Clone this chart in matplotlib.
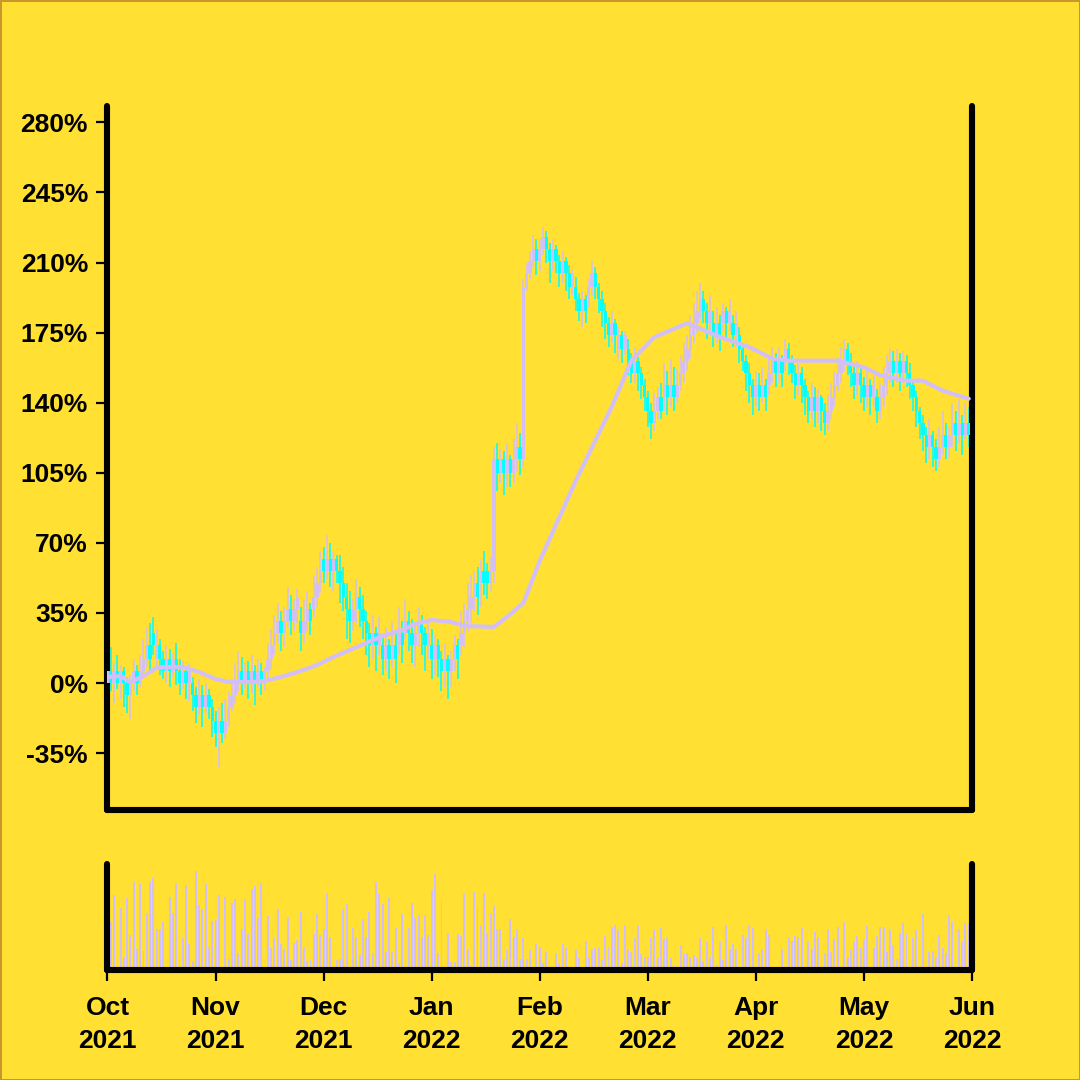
import numpy as np
import pandas as pd
import matplotlib
matplotlib.use('Agg')
import matplotlib.pyplot as plt
import matplotlib.dates as mdates

BG = '#FFE033'
UP = '#D3BFF8'
DOWN = '#00FFFF'

# one candle per day, 264 days
dates = pd.date_range('2021-10-01', periods=264, freq='D')

opens = [
    0, 6, 0, 6, 0, 6, 0, -6, 0, 6,
    0, 6, 12, 19, 25, 12, 19, 12, 6, 12,
    6, 12, 6, 0, 6, 0, 0, -6, -12, -6,
    -12, -6, -12, -19, -25, -19, -25, -19, -12, -6,
    0, 6, 0, 6, 0, 6, 0, 6, 0, 6,
    12, 19, 25, 31, 25, 31, 37, 31, 37, 31,
    25, 31, 37, 37, 43, 50, 62, 56, 62, 56,
    62, 56, 50, 43, 37, 31, 37, 43, 37, 31,
    25, 19, 25, 19, 19, 12, 19, 12, 19, 19,
    25, 25, 31, 25, 19, 25, 31, 25, 19, 19,
    12, 19, 12, 6, 12, 6, 12, 19, 19, 25,
    31, 37, 43, 50, 50, 56, 56, 50, 56, 112,
    105, 112, 105, 112, 105, 112, 118, 112, 198, 205,
    211, 217, 211, 217, 223, 217, 211, 217, 211, 205,
    211, 205, 198, 198, 192, 186, 192, 192, 198, 205,
    198, 192, 186, 180, 174, 180, 167, 174, 167, 167,
    161, 155, 161, 155, 149, 143, 136, 130, 136, 143,
    143, 149, 143, 149, 143, 149, 155, 161, 167, 174,
    180, 186, 192, 186, 180, 180, 174, 180, 180, 186,
    180, 180, 174, 174, 167, 161, 155, 149, 143, 149,
    143, 149, 149, 155, 161, 155, 161, 161, 167, 161,
    155, 149, 155, 149, 143, 136, 143, 136, 143, 136,
    130, 136, 143, 149, 155, 161, 167, 161, 155, 149,
    155, 149, 143, 149, 143, 143, 136, 143, 149, 155,
    161, 155, 161, 155, 161, 155, 149, 143, 136, 130,
    124, 118, 124, 118, 112, 118, 124, 118, 124, 130,
    124, 130, 124, 130,
]
closes = [
    6, 0, 6, 0, 6, 0, -6, 0, 6, 0,
    6, 12, 19, 12, 19, 19, 12, 6, 12, 6,
    12, 6, 0, 6, 0, 6, -6, -12, -6, -12,
    -6, -12, -19, -25, -19, -25, -19, -12, -6, 0,
    6, 0, 6, 0, 6, 0, 6, 0, 6, 12,
    19, 25, 31, 25, 31, 37, 31, 37, 43, 25,
    31, 37, 31, 43, 50, 56, 56, 62, 56, 62,
    56, 50, 43, 37, 31, 37, 43, 37, 31, 25,
    19, 25, 19, 25, 12, 19, 12, 19, 12, 25,
    19, 31, 25, 19, 25, 31, 25, 19, 25, 12,
    19, 12, 6, 12, 6, 12, 19, 12, 25, 31,
    37, 43, 50, 43, 56, 50, 50, 56, 112, 105,
    112, 105, 112, 105, 112, 118, 112, 198, 205, 211,
    217, 211, 217, 223, 217, 211, 217, 211, 205, 211,
    205, 198, 205, 192, 186, 192, 186, 198, 205, 198,
    192, 186, 180, 174, 180, 174, 174, 167, 174, 161,
    155, 161, 155, 149, 143, 136, 130, 136, 143, 136,
    149, 143, 149, 143, 149, 155, 161, 167, 174, 180,
    186, 192, 186, 180, 186, 174, 180, 174, 186, 180,
    186, 174, 180, 167, 161, 155, 149, 143, 149, 143,
    149, 143, 155, 161, 155, 161, 155, 167, 161, 155,
    149, 155, 149, 143, 136, 143, 136, 143, 136, 130,
    136, 143, 149, 155, 161, 167, 161, 155, 149, 155,
    149, 143, 149, 143, 149, 136, 143, 149, 155, 161,
    155, 161, 155, 161, 155, 149, 143, 136, 130, 124,
    118, 124, 118, 112, 118, 124, 118, 124, 130, 124,
    130, 124, 130, 124,
]
highs = [
    12, 18, 10, 14, 9, 8, 3, 4, 12, 9,
    14, 22, 28, 30, 33, 27, 22, 16, 19, 17,
    15, 20, 12, 11, 8, 10, 3, -2, 2, -1,
    0, -3, -8, -14, -12, -10, -8, -4, 2, 10,
    16, 13, 10, 11, 14, 9, 12, 10, 8, 20,
    27, 34, 40, 36, 38, 48, 44, 42, 47, 38,
    42, 46, 40, 54, 58, 66, 68, 74, 70, 66,
    64, 64, 58, 50, 46, 42, 52, 48, 44, 36,
    30, 34, 28, 33, 24, 28, 22, 31, 26, 38,
    31, 42, 36, 32, 30, 38, 34, 28, 32, 27,
    24, 22, 16, 20, 14, 16, 24, 22, 36, 40,
    50, 54, 56, 58, 62, 66, 60, 63, 118, 120,
    117, 116, 120, 114, 122, 130, 125, 202, 210, 216,
    224, 222, 222, 228, 226, 220, 222, 219, 214, 216,
    213, 209, 207, 203, 195, 196, 194, 202, 211, 208,
    200, 196, 190, 183, 186, 182, 178, 176, 176, 172,
    165, 168, 163, 158, 152, 146, 140, 145, 148, 150,
    160, 156, 162, 158, 157, 164, 170, 174, 184, 190,
    196, 200, 196, 190, 194, 186, 188, 184, 190, 188,
    192, 184, 186, 178, 170, 164, 160, 152, 156, 155,
    158, 152, 164, 168, 165, 168, 164, 172, 170, 164,
    159, 160, 158, 152, 146, 150, 148, 147, 144, 140,
    144, 150, 156, 163, 168, 172, 170, 165, 160, 161,
    158, 153, 156, 152, 154, 147, 150, 158, 164, 167,
    166, 167, 165, 166, 164, 160, 152, 146, 138, 134,
    128, 132, 126, 122, 128, 136, 130, 128, 140, 136,
    142, 134, 140, 138,
]
lows = [
    -6, -4, -10, -3, -8, -12, -15, -18, -4, -6,
    -2, 2, 8, 6, 14, 8, 4, 2, 0, -2,
    3, -1, -6, -3, -8, -9, -14, -20, -16, -22,
    -15, -18, -27, -32, -42, -30, -28, -22, -14, -10,
    -4, -6, -3, -8, -5, -11, -2, -6, -4, 1,
    7, 14, 20, 16, 18, 28, 24, 26, 30, 16,
    20, 26, 24, 33, 38, 45, 50, 52, 48, 46,
    50, 40, 36, 22, 20, 26, 30, 28, 22, 14,
    8, 12, 6, 14, 4, 6, 2, 8, 0, 14,
    10, 22, 16, 10, 8, 18, 14, 6, 12, 2,
    4, 3, -4, -2, -8, -2, 6, 2, 14, 18,
    26, 30, 36, 34, 38, 44, 42, 46, 50, 96,
    100, 94, 98, 98, 100, 106, 104, 108, 196, 202,
    208, 204, 206, 214, 210, 200, 206, 205, 198, 200,
    196, 192, 194, 186, 181, 178, 180, 188, 194, 192,
    185, 178, 172, 168, 170, 165, 162, 160, 164, 154,
    150, 150, 146, 142, 136, 128, 122, 126, 132, 132,
    136, 134, 138, 136, 140, 146, 150, 156, 162, 170,
    175, 182, 180, 172, 176, 168, 170, 166, 176, 172,
    176, 168, 168, 160, 156, 146, 140, 134, 138, 136,
    140, 136, 144, 150, 148, 150, 148, 156, 154, 150,
    142, 144, 140, 134, 130, 132, 128, 130, 126, 124,
    126, 132, 138, 146, 150, 156, 154, 148, 142, 144,
    140, 136, 138, 134, 138, 130, 132, 138, 144, 150,
    148, 150, 146, 150, 148, 142, 136, 128, 122, 116,
    110, 112, 108, 106, 108, 114, 112, 113, 118, 116,
    120, 114, 122, 118,
]
volume = [
    30,
    47, 74, 2, 61, 13, 71, 34, 86, 21, 84,
    19, 56, 86, 90, 40, 40, 47, 3, 72, 56,
    84, 11, 31, 83, 25, 9, 97, 64, 60, 84,
    23, 48, 49, 74, 1, 72, 11, 66, 70, 17,
    40, 70, 35, 79, 82, 51, 85, 1, 53, 22,
    31, 60, 25, 21, 51, 10, 26, 29, 57, 22,
    9, 11, 35, 55, 34, 40, 76, 32, 3, 10,
    11, 60, 65, 0, 41, 32, 15, 50, 32, 57,
    17, 86, 75, 65, 18, 71, 18, 41, 7, 55,
    2, 41, 66, 51, 54, 32, 54, 34, 78, 94,
    17, 69, 0, 36, 8, 8, 35, 33, 75, 20,
    4, 77, 62, 44, 76, 36, 56, 63, 40, 40,
    11, 20, 50, 32, 40, 11, 31, 11, 20,
    2, 25, 23, 7, 18, 0, 3, 17, 6, 25,
    22, 2, 3, 20, 12, 2, 28, 13, 21,
    22, 22, 10, 33, 23, 42, 44, 39, 7, 44,
    20, 18, 31, 43, 16, 13, 13, 31, 39, 12,
    41, 30, 32, 12, 4, 1, 24, 16, 17, 13,
    15, 12, 31, 9, 27, 12, 42, 5, 27, 10,
    44, 21, 25, 21, 3, 34, 31, 44, 41, 1,
    17, 21, 39, 34, 0, 3, 2, 21, 0, 32,
    28, 33, 32, 41, 0, 28, 21, 37, 32, 0,
    17, 40, 18, 30, 42, 3, 47, 13, 21, 27,
    33, 22, 29, 43, 2, 22, 33, 42, 42, 18,
    39, 24, 11, 36, 46, 35, 0, 31, 39, 0,
    55, 0, 18, 19, 13, 34, 22, 17, 54, 47,
    2, 40, 27, 46, 46,
]

# moving average line, read at sample days
ma_day = [0, 4, 7, 11, 15, 18, 23, 28, 33, 37, 44, 48, 54, 59, 64, 69, 74, 79,
          84, 90, 94, 99, 105, 109, 118, 122, 127, 132, 143, 154, 160, 167, 177,
          187, 196, 203, 208, 219, 223, 231, 236, 244, 249, 255, 263]
ma_pct = [3, 3.5, 0.5, 3.5, 7.5, 8, 8, 5.5, 2, 0.5, 0.5, 1, 3.5, 6, 9, 13, 16.5, 20,
          23.5, 26.5, 29.5, 31.5, 30.5, 28.5, 28, 33, 40, 61, 101, 138, 161, 172.7,
          179.7, 172.8, 167.8, 162, 161, 161, 161, 157.7, 153.7, 151, 151, 146, 142]

y_ticks = [-35, 0, 35, 70, 105, 140, 175, 210, 245, 280]
month_tick_days = [0, 33, 66, 99, 132, 165, 198, 231, 264]

plt.rcParams['font.family'] = ['Liberation Sans', 'DejaVu Sans']
plt.rcParams['font.weight'] = 'bold'

fig = plt.figure(figsize=(10.8, 10.8), dpi=100)
fig.patch.set_facecolor(BG)
fig.patch.set_edgecolor('#C8962A')
fig.patch.set_linewidth(2)

ax = fig.add_axes([0.0995, 0.25, 0.8005, 0.6515])
axv = fig.add_axes([0.0995, 0.1019, 0.8005, 0.0981])

x = mdates.date2num(dates)
o = np.array(opens, dtype=float)
c = np.array(closes, dtype=float)
up = c >= o
cols = np.where(up, UP, DOWN)

# candles
ax.vlines(x, lows, highs, colors=cols, lw=1.1, zorder=2)
ax.bar(x, np.abs(c - o), bottom=np.minimum(o, c), width=1.0, color=cols,
       linewidth=0, zorder=3)
ax.plot(mdates.date2num(dates[ma_day]), ma_pct, color=UP, lw=3.0, zorder=4,
        solid_capstyle='round', solid_joinstyle='round')

# volume
axv.bar(x, volume, width=0.6, color=UP, linewidth=0)

x_end = mdates.date2num(pd.Timestamp('2021-10-01') + pd.Timedelta(days=264))
for a in (ax, axv):
    a.set_facecolor('none')
    a.set_xlim(x[0], x_end)
    a.spines['top'].set_visible(False)
    for s in ('left', 'right', 'bottom'):
        a.spines[s].set_linewidth(4.4)
        a.spines[s].set_color('black')
        a.spines[s].set_capstyle('round')

ax.set_ylim(-63.4, 288)
ax.set_yticks(y_ticks)
ax.set_yticklabels([f'{v}%' for v in y_ticks])
ax.tick_params(axis='y', length=8, width=1.6, pad=6, labelsize=19)
ax.tick_params(axis='x', bottom=False, labelbottom=False)

axv.set_ylim(0, 104)
axv.set_yticks([])
tick_dates = [dates[0] + pd.Timedelta(days=d) for d in month_tick_days]
axv.set_xticks(mdates.date2num(tick_dates))
axv.set_xticklabels([t.strftime('%b\n%Y') for t in tick_dates], linespacing=1.45)
axv.tick_params(axis='x', length=8, width=1.6, pad=11, labelsize=19)

fig.savefig('out.png', dpi=100, facecolor=BG, edgecolor=fig.get_edgecolor())
